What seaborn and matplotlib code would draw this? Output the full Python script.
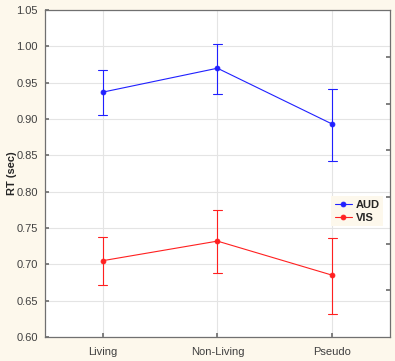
import pandas as pd
import matplotlib
import matplotlib.pyplot as plt
import seaborn as sns

conditions = ['Living', 'Non-Living', 'Pseudo']
aud_mean = [0.937, 0.970, 0.893]
aud_low = [0.905, 0.935, 0.842]
aud_high = [0.967, 1.004, 0.941]
vis_mean = [0.705, 0.732, 0.685]
vis_low = [0.671, 0.688, 0.632]
vis_high = [0.737, 0.775, 0.736]

rows = []
for mod, lo, mn, hi in [('AUD', aud_low, aud_mean, aud_high), ('VIS', vis_low, vis_mean, vis_high)]:
    for i, c in enumerate(conditions):
        for v in (lo[i], mn[i], hi[i]):
            rows.append({'Condition': c, 'RT': v, 'Modality': mod})
df = pd.DataFrame(rows)

sns.set_theme(style="white", rc={'figure.facecolor': '#fdf8ec', 'axes.facecolor': 'white'})
plt.rcParams['font.family'] = ['Liberation Sans Narrow', 'Liberation Sans', 'DejaVu Sans']

fig = plt.figure(figsize=(3.95, 3.61), dpi=100)
ax = fig.add_axes([0.114, 0.0665, 0.873, 0.9055])

sns.pointplot(data=df, x='Condition', y='RT', hue='Modality', order=conditions,
              estimator='median', errorbar=('pi', 100), capsize=0.075,
              palette={'AUD': '#2020ff', 'VIS': '#ff2020'}, markers='o',
              markersize=3.5, linewidth=0.8, err_kws={'linewidth': 0.8}, ax=ax)

ax.set_ylim(0.60, 1.05)
ax.set_xlim(-0.5, 2.5)
ax.set_yticks([0.60, 0.65, 0.70, 0.75, 0.80, 0.85, 0.90, 0.95, 1.00, 1.05])
ax.set_yticklabels([f'{v:.2f}' for v in ax.get_yticks()])
ax.grid(True, color='#e4e4e4', linewidth=0.8)
ax.set_axisbelow(True)
ax.tick_params(axis='both', direction='in', length=3, color='#707070',
               labelsize=8, labelcolor='#404040', left=True, bottom=True)
ax.tick_params(axis='y', pad=5)
ax.tick_params(axis='x', pad=7)
for s in ax.spines.values():
    s.set_color('#707070')
    s.set_linewidth(0.9)
ax.set_xlabel('')
ax.set_ylabel('RT (sec)', fontsize=8, fontweight='bold', family=['Liberation Sans', 'DejaVu Sans'])
ax.yaxis.set_label_coords(-0.08, 0.5)

ax2 = ax.twinx()
ax2.set_ylim(0, 7)
ax2.set_yticks(range(1, 7))
ax2.set_yticklabels([])
ax2.tick_params(axis='y', direction='in', length=3, color='#707070')
for s in ax2.spines.values():
    s.set_visible(False)

leg = ax.legend(loc='upper left', bbox_to_anchor=(0.83, 0.43), frameon=True,
                facecolor='#fdf8ec', edgecolor='none', fancybox=False,
                prop={'family': ['Liberation Sans', 'DejaVu Sans'], 'weight': 'bold', 'size': 8},
                handlelength=1.6, handletextpad=0.3, borderpad=0.3, labelspacing=0.3, borderaxespad=0)
leg.get_frame().set_alpha(1)

plt.savefig('out.png', dpi=100)
